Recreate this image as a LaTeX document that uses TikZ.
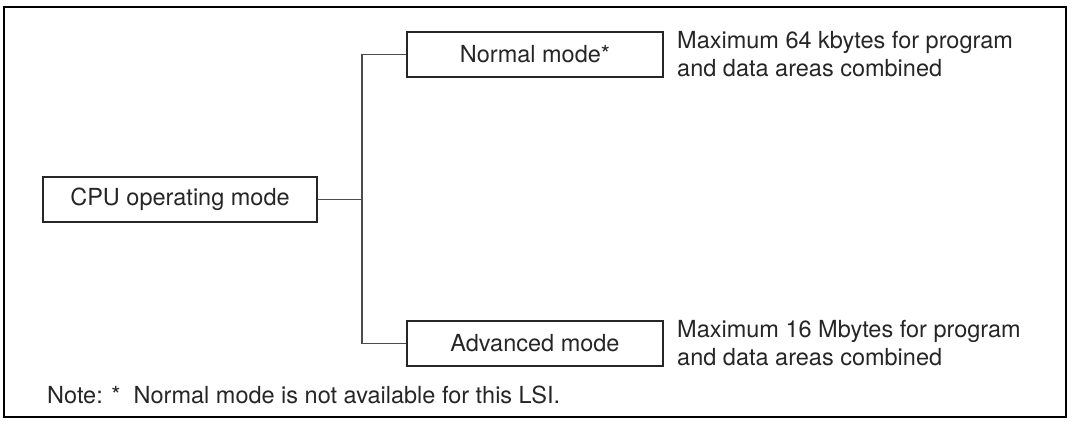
\documentclass[tikz,border=0pt]{standalone}
\usepackage{fontspec}
\setmainfont{TeX Gyre Heros}
\begin{document}
\begin{tikzpicture}[x=1pt,y=-1pt,
  txt/.style={font=\fontsize{23.5}{28}\selectfont, text=black!85, inner sep=0pt},
  modebox/.style={txt, draw=black!85, line width=1.3pt, minimum width=256pt, minimum height=45pt},
  conn/.style={draw=black!70, line width=1.3pt}]
\useasboundingbox (0,0) rectangle (1073,423);
\node[draw=black, line width=2.6pt, minimum width=1062pt, minimum height=410pt, inner sep=0pt] (frame) at (535,212) {};
\node[modebox, minimum width=274pt] (cpu) at (180,199.5) {CPU operating mode};
\node[modebox] (normal) at (535,54.5) {Normal mode*};
\node[modebox] (adv) at (535,343.5) {Advanced mode};
\node[txt, anchor=base west] (n1) at (677,48) {Maximum 64 kbytes for program};
\node[txt, anchor=base west] (n2) at (677,76) {and data areas combined};
\node[txt, anchor=base west] (a1) at (677,337) {Maximum 16 Mbytes for program};
\node[txt, anchor=base west] (a2) at (677,365) {and data areas combined};
\node[txt, anchor=base west] (note) at (47,403) {Note: *\ \ Normal mode is not available for this LSI.};
\coordinate (j) at (362,199.5);
\draw[conn] (cpu.east) -- (j);
\draw[conn] (normal.west) -| (j) |- (adv.west);
\end{tikzpicture}
\end{document}
